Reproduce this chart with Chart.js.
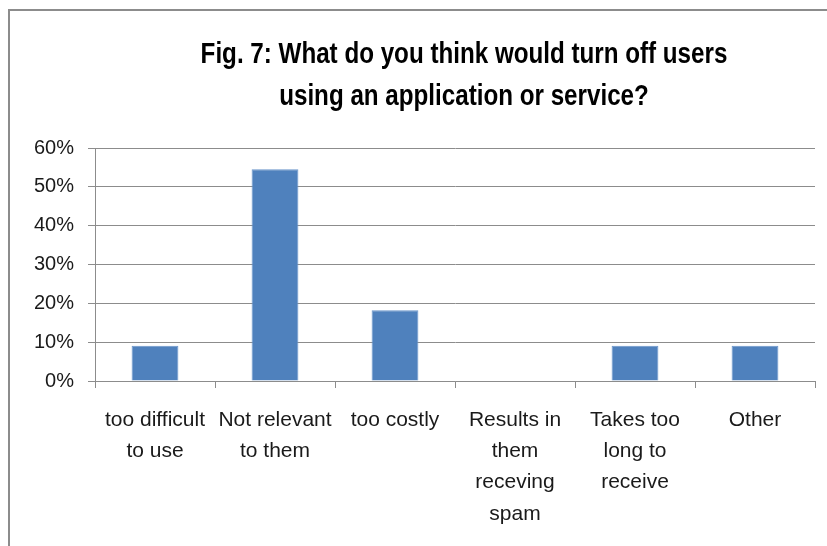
<!DOCTYPE html>
<html>
<head>
<meta charset="utf-8">
<script src="https://cdn.jsdelivr.net/npm/chart.js@4.4.1/dist/chart.umd.min.js"></script>
<style>
  html, body { margin: 0; padding: 0; background: #fff; }
  #frame {
    position: absolute; left: 8px; top: 9px; width: 900px; height: 600px;
    border-top: 2px solid #8c8c8c; border-left: 2px solid #8c8c8c;
  }
  #wrap { position: absolute; left: 0; top: 0; width: 827px; height: 546px; }
</style>
</head>
<body>
<div id="frame"></div>
<div id="wrap"><canvas id="c" width="827" height="546"></canvas></div>
<script>
// Chart text and values
const titleLines = [
  'Fig. 7: What do you think would turn off users',
  'using an application or service?'
];
const categories = [
  ['too difficult', 'to use'],
  ['Not relevant', 'to them'],
  ['too costly'],
  ['Results in', 'them', 'receving', 'spam'],
  ['Takes too', 'long to', 'receive'],
  ['Other']
];
const shares = [9.1, 54.5, 18.2, 0, 9.1, 9.1];   // percent of respondents
const yMin = 0;
const yMax = 60;
const yStep = 10;

// Two-line bold heading, drawn in a narrowed sans face above the plot
const headingPlugin = {
  id: 'heading',
  afterDraw(chart) {
    const ctx = chart.ctx;
    const cx = 464;
    ctx.save();
    ctx.font = 'bold 29.5px "Liberation Sans", Arial, sans-serif';
    ctx.fillStyle = '#000';
    ctx.textAlign = 'center';
    ctx.textBaseline = 'alphabetic';
    ctx.translate(cx, 0);
    ctx.scale(0.82, 1);
    titleLines.forEach((line, i) => ctx.fillText(line, 0, 63 + i * 42));
    ctx.restore();
  }
};

const gridGray = '#8c8c8c';

new Chart(document.getElementById('c'), {
  type: 'bar',
  data: {
    labels: categories,
    datasets: [{
      data: shares,
      backgroundColor: '#4f81bd',
      borderColor: '#6a95cb',
      borderWidth: 1,
      barPercentage: 0.39,
      categoryPercentage: 1.0
    }]
  },
  options: {
    responsive: false,
    animation: false,
    layout: { padding: { top: 148, right: 12, bottom: 0, left: 0 } },
    plugins: {
      legend: { display: false },
      tooltip: { enabled: false },
      title: { display: false }
    },
    scales: {
      x: {
        grid: {
          offset: true,
          drawOnChartArea: false,
          drawTicks: true,
          tickLength: 7,
          color: gridGray,
          lineWidth: 1
        },
        border: { display: true, color: gridGray, width: 1 },
        ticks: {
          autoSkip: false,
          maxRotation: 0,
          minRotation: 0,
          padding: 17,
          color: '#1a1a1a',
          font: { family: '"Liberation Sans", Arial, sans-serif', size: 21, lineHeight: 1.48 }
        },
        afterFit(scale) { scale.height = 165; }
      },
      y: {
        min: yMin,
        max: yMax,
        grid: {
          drawTicks: true,
          tickLength: 7,
          color: gridGray,
          lineWidth: 1
        },
        border: { display: true, color: gridGray, width: 1 },
        ticks: {
          stepSize: yStep,
          padding: 14,
          color: '#1a1a1a',
          font: { family: '"Liberation Sans", Arial, sans-serif', size: 20 },
          callback: v => v + '%'
        },
        afterFit(scale) { scale.width = 95; }
      }
    }
  },
  plugins: [headingPlugin]
});
</script>
</body>
</html>
